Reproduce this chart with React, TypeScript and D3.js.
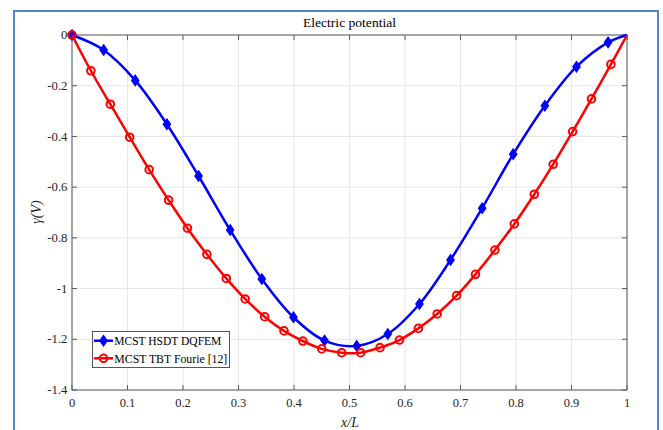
import React from "react";
import * as d3 from "d3";

const blueX = [0, 0.057, 0.114, 0.171, 0.228, 0.285, 0.342, 0.399, 0.455, 0.513, 0.569, 0.626, 0.682, 0.739, 0.795, 0.852, 0.909, 0.966, 1];
const blueY = [0, -0.059, -0.179, -0.352, -0.556, -0.769, -0.962, -1.113, -1.205, -1.226, -1.179, -1.061, -0.887, -0.683, -0.47, -0.279, -0.125, -0.029, 0];

const redX = [0, 0.034, 0.069, 0.104, 0.139, 0.174, 0.208, 0.243, 0.278, 0.312, 0.347, 0.382, 0.416, 0.45, 0.486, 0.52, 0.555, 0.59, 0.624, 0.658, 0.693, 0.727, 0.762, 0.797, 0.833, 0.867, 0.902, 0.936, 0.971, 1];
const redY = [0, -0.141, -0.273, -0.403, -0.531, -0.651, -0.762, -0.865, -0.96, -1.041, -1.111, -1.167, -1.207, -1.238, -1.253, -1.253, -1.233, -1.203, -1.157, -1.1, -1.028, -0.944, -0.848, -0.745, -0.628, -0.51, -0.381, -0.252, -0.116, 0];

const xTicks = [0, 0.1, 0.2, 0.3, 0.4, 0.5, 0.6, 0.7, 0.8, 0.9, 1];
const xTickLabels = ["0", "0.1", "0.2", "0.3", "0.4", "0.5", "0.6", "0.7", "0.8", "0.9", "1"];
const yTicks = [0, -0.2, -0.4, -0.6, -0.8, -1, -1.2, -1.4];
const yTickLabels = ["0", "-0.2", "-0.4", "-0.6", "-0.8", "-1", "-1.2", "-1.4"];

const seriesNames = ["MCST HSDT DQFEM", "MCST TBT Fourie [12]"];
const title = "Electric potential";

const W = 663, H = 430;
const L = 72, R = 627, T = 35, B = 390;

export default function App() {
  const x = d3.scaleLinear().domain([0, 1]).range([L, R]);
  const y = d3.scaleLinear().domain([-1.4, 0]).range([B, T]);
  const line = d3.line<[number, number]>().x(d => x(d[0])).y(d => y(d[1])).curve(d3.curveCatmullRom.alpha(0.5));
  const blue: [number, number][] = blueX.map((v, i) => [v, blueY[i]]);
  const red: [number, number][] = redX.map((v, i) => [v, redY[i]]);
  const axisCol = "#5a5a5a";
  const textCol = "#262626";
  const diamond = (cx: number, cy: number) => `M${cx},${cy - 5}L${cx + 3.5},${cy}L${cx},${cy + 5}L${cx - 3.5},${cy}Z`;
  const serif = "Liberation Serif";
  return (
    <svg width={W} height={H} style={{ position: "absolute", left: 0, top: 0, background: "#fff" }}>
      <rect x={14} y={11} width={644} height={430} fill="none" stroke="#4f86c6" strokeWidth={2} />
      {xTicks.map((t, i) => (
        <line key={"gx" + i} x1={x(t)} x2={x(t)} y1={T} y2={B} stroke="#e6e6e6" strokeWidth={1} />
      ))}
      {yTicks.map((t, i) => (
        <line key={"gy" + i} x1={L} x2={R} y1={y(t)} y2={y(t)} stroke="#e6e6e6" strokeWidth={1} />
      ))}
      <rect x={L} y={T} width={R - L} height={B - T} fill="none" stroke={axisCol} strokeWidth={1} />
      {xTicks.map((t, i) => (
        <g key={"tx" + i}>
          <line x1={x(t)} x2={x(t)} y1={B} y2={B - 5} stroke={axisCol} />
          <line x1={x(t)} x2={x(t)} y1={T} y2={T + 5} stroke={axisCol} />
          <text x={x(t)} y={407} textAnchor="middle" fontFamily={serif} fontSize={12.5} fill={textCol}>{xTickLabels[i]}</text>
        </g>
      ))}
      {yTicks.map((t, i) => (
        <g key={"ty" + i}>
          <line x1={L} x2={L + 5} y1={y(t)} y2={y(t)} stroke={axisCol} />
          <line x1={R} x2={R - 5} y1={y(t)} y2={y(t)} stroke={axisCol} />
          <text x={67.5} y={y(t) + 4.2} textAnchor="end" fontFamily={serif} fontSize={12.8} fill={textCol}>{yTickLabels[i]}</text>
        </g>
      ))}
      <text x={349.5} y={27} textAnchor="middle" fontFamily={serif} fontSize={13.5} textLength={93} lengthAdjust="spacingAndGlyphs" fill="#000">{title}</text>
      <text x={350} y={426.5} textAnchor="middle" fontFamily={serif} fontSize={14} fontStyle="italic" fill={textCol}>x/L</text>
      <text transform={`translate(41,212) rotate(-90)`} textAnchor="middle" fontFamily={serif} fontSize={14} fontStyle="italic" fill={textCol}>γ(V)</text>
      <path d={line(blue) || ""} fill="none" stroke="#0000ff" strokeWidth={2.5} />
      {blue.slice(0, -1).map((d, i) => (
        <path key={"bm" + i} d={diamond(x(d[0]), y(d[1]))} fill="#0000ff" stroke="#0000ff" strokeWidth={1.5} />
      ))}
      <path d={line(red) || ""} fill="none" stroke="#ff0000" strokeWidth={2.5} />
      {red.slice(0, -1).map((d, i) => (
        <circle key={"rm" + i} cx={x(d[0])} cy={y(d[1])} r={3.8} fill="none" stroke="#ff0000" strokeWidth={2} />
      ))}
      <rect x={92.5} y={331.5} width={137} height={36} fill="#fff" stroke="#555" strokeWidth={1} />
      <line x1={94} x2={113} y1={340.7} y2={340.7} stroke="#0000ff" strokeWidth={2.5} />
      <path d={diamond(103.5, 340.7)} fill="#0000ff" stroke="#0000ff" strokeWidth={1.5} />
      <text x={114.3} y={345.2} fontFamily={serif} fontSize={12.8} textLength={107} lengthAdjust="spacingAndGlyphs" fill="#000">{seriesNames[0]}</text>
      <line x1={94} x2={113} y1={358.3} y2={358.3} stroke="#ff0000" strokeWidth={2.5} />
      <circle cx={103.5} cy={358.3} r={3.8} fill="none" stroke="#ff0000" strokeWidth={2} />
      <text x={114.3} y={362.8} fontFamily={serif} fontSize={12.8} textLength={113} lengthAdjust="spacingAndGlyphs" fill="#000">{seriesNames[1]}</text>
    </svg>
  );
}
